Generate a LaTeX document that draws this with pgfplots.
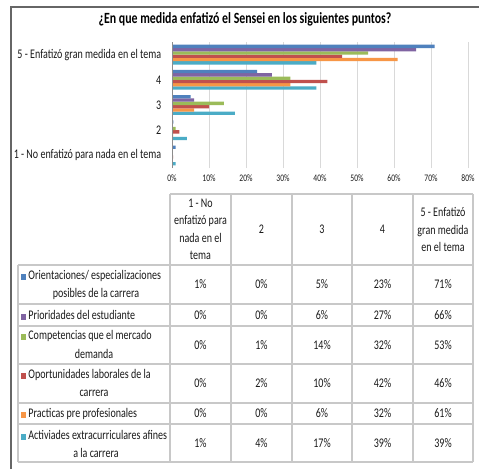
\documentclass[border=0pt]{standalone}
\usepackage{pgfplots}
\pgfplotsset{compat=1.18}
\usepackage{fontspec}
\setmainfont{Carlito}[FakeStretch=0.76]
\definecolor{cBlue}{HTML}{4F81BD}
\definecolor{cPurple}{HTML}{8064A2}
\definecolor{cGreen}{HTML}{9BBB59}
\definecolor{cRed}{HTML}{C0504D}
\definecolor{cOrange}{HTML}{F79646}
\definecolor{cCyan}{HTML}{4BACC6}
\definecolor{gridc}{HTML}{D9D9D9}
\definecolor{tabc}{HTML}{C8C8C8}
\definecolor{txt}{HTML}{1A1A1A}
\begin{document}
\begin{tikzpicture}[x=1pt,y=-1pt]
\useasboundingbox (0,0) rectangle (479,469);
\fill[white] (0,0) rectangle (479,469);
\draw[line width=1.6pt, black!60] (11,469) -- (11,7) -- (479,7);
\node[font=\bfseries\fontsize{15.6}{18}\selectfont, text=black] at (245,19) {¿En que medida enfatizó el Sensei en los siguientes puntos?};
\begin{axis}[at={(172pt,-168pt)}, anchor=south west, scale only axis,
  width=296pt, height=126pt,
  xbar=0pt, bar width=3.3pt,
  xmin=0, xmax=80, ymin=0.5, ymax=5.5,
  xtick={0,10,...,80},
  xticklabel={\pgfmathprintnumber{\tick}\%},
  xticklabel style={font=\fontsize{10}{11}\selectfont, text=txt, yshift=-3pt},
  ytick={1,2,3,4,5},
  yticklabels={1 - No enfatizó para nada en el tema, 2, 3, 4, 5 - Enfatizó gran medida en el tema},
  yticklabel style={font=\fontsize{13.2}{15}\selectfont, text=txt, xshift=-3pt},
  /pgf/number format/assume math mode=true,
  axis line style={draw=none},
  tick style={draw=none},
  xmajorgrids, grid style={gridc, line width=0.8pt},
  clip=false,
]
\addplot[fill=cCyan, draw=none] coordinates {(1,1) (4,2) (17,3) (39,4) (39,5)};
\addplot[fill=cOrange, draw=none] coordinates {(0,1) (0.3,2) (6,3) (32,4) (61,5)};
\addplot[fill=cRed, draw=none] coordinates {(0.3,1) (2,2) (10,3) (42,4) (46,5)};
\addplot[fill=cGreen, draw=none] coordinates {(0,1) (1,2) (14,3) (32,4) (53,5)};
\addplot[fill=cPurple, draw=none] coordinates {(0,1) (0,2) (6,3) (27,4) (66,5)};
\addplot[fill=cBlue, draw=none] coordinates {(1,1) (0.4,2) (5,3) (23,4) (71,5)};
\draw[black!45, line width=0.8pt] (axis cs:0,0.5) -- (axis cs:0,5.5);
\end{axis}
% table grid
\begin{scope}[tabc, line width=1.2pt]
\draw (170,194) -- (473,194);
\foreach \yy in {265,304,326,364,403,424,462} \draw (18,\yy) -- (473,\yy);
\draw (18,265) -- (18,462);
\foreach \xx in {170,231,292,352,413,473} \draw (\xx,194) -- (\xx,462);
\end{scope}
\begin{scope}[every node/.style={font=\fontsize{13.2}{17.5}\selectfont, text=txt, inner sep=0pt}]
% header
\node[align=center] at (200.5,229.5) {1 - No\\enfatizó para\\nada en el\\tema};
\node at (261.5,229.5) {2};
\node at (322,229.5) {3};
\node at (382.5,229.5) {4};
\node[align=center] at (443,229.5) {5 - Enfatizó\\gran medida\\en el tema};
% row labels
\node[anchor=west] at (21,276) {\textcolor{cBlue}{\rule{5pt}{6pt}}\,Orientaciones/ especializaciones};
\node at (96,294) {posibles de la carrera};
\node[anchor=west] at (21,315) {\textcolor{cPurple}{\rule{5pt}{6pt}}\,Prioridades del estudiante};
\node[anchor=west] at (21,336) {\textcolor{cGreen}{\rule{5pt}{6pt}}\,Competencias que el mercado};
\node at (94,354) {demanda};
\node[anchor=west] at (21,375) {\textcolor{cRed}{\rule{5pt}{6pt}}\,Oportunidades laborales de la};
\node at (94,393) {carrera};
\node[anchor=west] at (21,414) {\textcolor{cOrange}{\rule{5pt}{6pt}}\,Practicas pre profesionales};
\node[anchor=west] at (21,435) {\textcolor{cCyan}{\rule{5pt}{6pt}}\,Activiades extracurriculares afines};
\node at (96,453) {a la carrera};
% values
\foreach \yy/\a/\b/\c/\d/\e in {284.5/1/0/5/23/71, 315/0/0/6/27/66, 345/0/1/14/32/53, 383.5/0/2/10/42/46, 413.5/0/0/6/32/61, 443/1/4/17/39/39}{
  \node at (200.5,\yy) {\a\%};
  \node at (261.5,\yy) {\b\%};
  \node at (322,\yy) {\c\%};
  \node at (382.5,\yy) {\d\%};
  \node at (443,\yy) {\e\%};
}
\end{scope}
\end{tikzpicture}
\end{document}
